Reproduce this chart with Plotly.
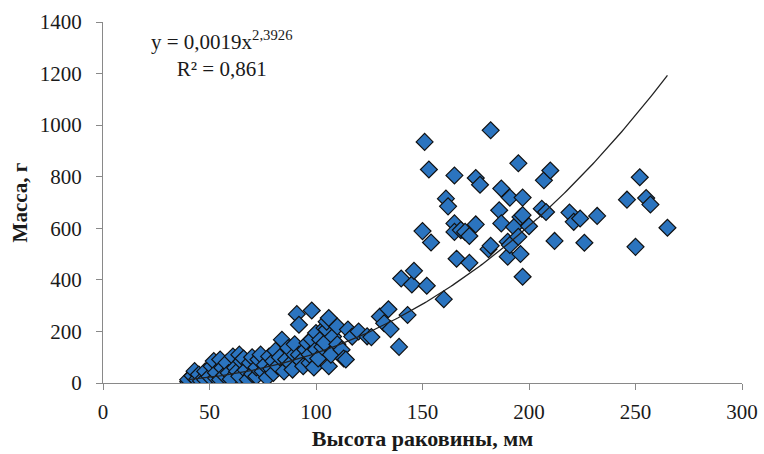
import numpy as np
import plotly.graph_objects as go

# Shell height (mm) and body mass (g) of the sampled molluscs
height_mm = [
    40, 40, 42, 43, 44, 45, 46, 48, 48, 50, 51, 52, 53, 53, 55, 55, 56, 57, 58, 59,
    60, 61, 62, 63, 64, 64, 65, 66, 67, 68, 69, 70, 70, 72, 72, 73, 74, 75, 76, 77,
    78, 79, 80, 80, 81, 82, 83, 84, 85, 86, 87, 88, 89, 90, 90, 91, 92, 92, 93, 94,
    95, 96, 97, 97, 98, 98, 99, 100, 100, 101, 102, 103, 104, 104, 105, 105, 106, 106,
    107, 108, 110, 110, 112, 113, 114, 115, 117, 120, 124, 126,
    130, 132, 134, 135, 139, 140, 143, 145, 146, 150, 151, 152, 153, 154, 160, 161,
    162, 165, 165, 165, 166, 168, 170, 172, 172, 175, 175, 177, 181, 182, 182, 186,
    187, 187, 190, 190, 191, 191, 193, 195, 195, 196, 196, 197, 197, 197, 200, 206,
    208, 207, 210, 212, 219, 221, 224, 226, 232, 246, 250, 252, 255, 257, 265,
]
mass_g = [
    5, 13, 28, 46, 13, 33, 8, 13, 45, 25, 65, 85, 20, 40, 91, 13, 59, 30, 78, 39,
    15, 103, 59, 45, 110, 26, 84, 95, 50, 13, 78, 35, 100, 26, 60, 91, 110, 45, 70, 20,
    103, 55, 39, 85, 125, 65, 100, 168, 45, 91, 136, 75, 52, 110, 150, 267, 110, 226, 85, 65,
    130, 155, 78, 110, 281, 170, 60, 194, 130, 95, 168, 140, 155, 213, 207, 238, 252, 65,
    110, 180, 219, 150, 129, 95, 91, 207, 180, 200, 181, 178,
    258, 232, 286, 209, 140, 405, 264, 382, 435, 589, 935, 377, 828, 545, 325, 715,
    685, 805, 619, 586, 482, 593, 586, 570, 466, 795, 615, 769, 519, 532, 980, 670,
    754, 619, 548, 490, 719, 535, 605, 852, 567, 500, 644, 719, 412, 651, 608, 676,
    663, 786, 824, 551, 661, 625, 638, 544, 648, 711, 528, 798, 717, 692, 602,
]

# Power-law trend stated on the chart: y = 0,0019 x^2,3926
coef_a = 0.0019
coef_b = 2.3926
r_squared = "0,861"

x_ticks = [0, 50, 100, 150, 200, 250, 300]
y_ticks = [0, 200, 400, 600, 800, 1000, 1200, 1400]

trend_x = np.linspace(min(height_mm), max(height_mm), 200)
trend_y = coef_a * trend_x ** coef_b

serif = "Liberation Serif"
axis_grey = "#898989"
ink = "#1a1a1a"

fig = go.Figure()
fig.add_trace(go.Scatter(
    x=height_mm, y=mass_g, mode="markers",
    marker=dict(symbol="diamond", size=13, color="#2B74BF",
                line=dict(color="#111111", width=1.2)),
    showlegend=False, hoverinfo="x+y",
))
fig.add_trace(go.Scatter(
    x=trend_x, y=trend_y, mode="lines",
    line=dict(color="#222222", width=1.3),
    showlegend=False, hoverinfo="skip",
))

eq_line1 = (f"y = {str(coef_a).replace('.', ',')}x"
            f"<sup>{str(coef_b).replace('.', ',')}</sup>")
eq_line2 = f"R² = {r_squared}"
fig.add_annotation(
    x=0.185, y=0.912, xref="paper", yref="paper",
    xanchor="center", yanchor="middle",
    text=f"{eq_line1}<br>{eq_line2}", showarrow=False,
    font=dict(family=serif, size=21, color=ink), align="center",
)

fig.update_layout(
    width=764, height=454,
    margin=dict(l=103, r=22, t=22, b=71),
    paper_bgcolor="white", plot_bgcolor="white",
    font=dict(family=serif, color=ink),
    xaxis=dict(
        range=[0, 300], tickvals=x_ticks, showgrid=False, zeroline=False,
        showline=True, linecolor=axis_grey, linewidth=1.3,
        ticks="outside", ticklen=6, tickcolor=axis_grey, tickwidth=1.3,
        ticklabelstandoff=4, automargin=False,
        tickfont=dict(family=serif, size=21, color=ink),
        title=dict(text="<b>Высота раковины, мм</b>", standoff=7,
                   font=dict(family=serif, size=22, color=ink)),
    ),
    yaxis=dict(
        range=[0, 1400], tickvals=y_ticks, showgrid=False, zeroline=False,
        showline=True, linecolor=axis_grey, linewidth=1.3,
        ticks="outside", ticklen=6, tickcolor=axis_grey, tickwidth=1.3,
        ticklabelstandoff=10, automargin=False,
        tickfont=dict(family=serif, size=21, color=ink),
        title=dict(text="<b>Масса, г</b>", standoff=6,
                   font=dict(family=serif, size=21, color=ink)),
    ),
)

fig.write_html("out.html")
